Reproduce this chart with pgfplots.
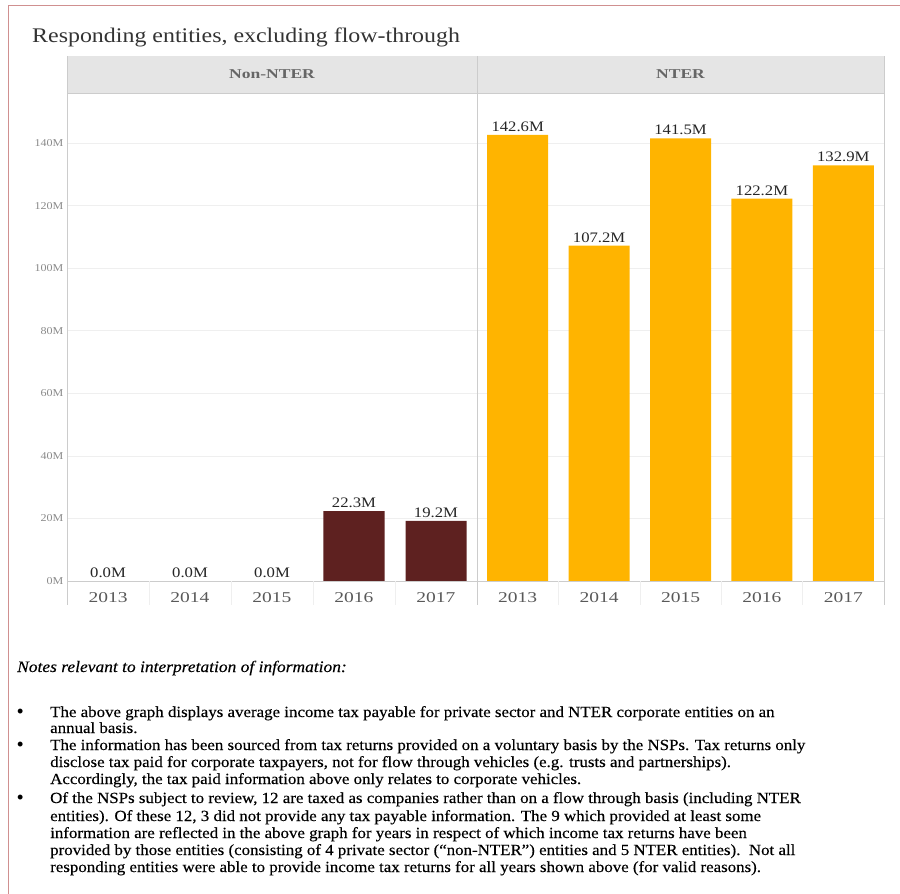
\documentclass[border=0pt]{standalone}
\usepackage{pgfplots}
\pgfplotsset{compat=1.18}
\usepackage{fontspec}
\setmainfont{Liberation Serif}
\newfontfamily\geo[FakeStretch=1.15]{Liberation Serif}
\newfontfamily\geow[FakeStretch=1.3]{Liberation Serif}
\newfontfamily\notef[FakeStretch=1.09,FakeBold=0.25]{Liberation Serif}
\definecolor{nonnter}{HTML}{5E2120}
\definecolor{nter}{HTML}{FFB400}
\definecolor{gridc}{HTML}{EFEFEF}
\definecolor{axc}{HTML}{CCCCCC}
\definecolor{hdr}{HTML}{E5E5E5}
\definecolor{tickc}{HTML}{8A8A8A}
\definecolor{bord}{HTML}{D09090}
\pgfplotsset{
  panel/.style={
    scale only axis, width=410pt, height=488pt,
    xmin=-0.5, xmax=4.5, ymin=0, ymax=156,
    ybar, bar width=61pt,
    axis line style={draw=none}, major tick length=0pt,
    ymajorgrids, grid style={gridc, line width=0.6pt},
    ytick={0,20,...,140},
    xtick={0,...,4}, xticklabels={2013,2014,2015,2016,2017},
    xticklabel style={font=\geow\fontsize{15}{17}\selectfont, text=black!65, yshift=-8pt},
    yticklabel style={font=\geo\fontsize{10.5}{12}\selectfont, text=tickc},
    nodes near coords,
    point meta=explicit symbolic,
    nodes near coords style={font=\geo\fontsize{14.5}{16}\selectfont, text=black!85, anchor=south, inner sep=3pt},
  }
}
\begin{document}
\begin{tikzpicture}[x=1pt,y=1pt]
\useasboundingbox (0,0) rectangle (900,-894);
\draw[bord, line width=1pt] (8.5,-894) -- (8.5,-5.5) -- (900,-5.5);
\node[anchor=base west, inner sep=0, font=\geo\fontsize{20.8}{25}\selectfont, text=black!80] at (32,-42) {Responding entities, excluding flow-through};
\fill[hdr] (67,-56) rectangle (884,-93);
\node[font=\geow\bfseries\fontsize{13.5}{15}\selectfont, text=black!60] at (272,-74.5) {Non-NTER};
\node[font=\geow\bfseries\fontsize{13.5}{15}\selectfont, text=black!60] at (680.5,-74.5) {NTER};

\begin{axis}[panel, at={(67pt,-581pt)}, anchor=south west,
  yticklabels={0M,20M,40M,60M,80M,100M,120M,140M}]
\addplot[fill=nonnter, draw=none] table[meta=lab] {
x y lab
0 0 0.0M
1 0 0.0M
2 0 0.0M
3 22.3 22.3M
4 19.2 19.2M
};
\end{axis}
\begin{axis}[panel, at={(477pt,-581pt)}, anchor=south west, width=407pt,
  yticklabels={}]
\addplot[fill=nter, draw=none] table[meta=lab] {
x y lab
0 142.6 142.6M
1 107.2 107.2M
2 141.5 141.5M
3 122.2 122.2M
4 132.9 132.9M
};
\end{axis}
% frame lines
\draw[axc, line width=0.8pt] (67,-93) -- (884,-93);
\draw[axc, line width=0.8pt] (67,-581) -- (884,-581);
\foreach \xx in {67,477,884} \draw[axc, line width=0.8pt] (\xx,-56) -- (\xx,-605);
\foreach \i in {1,...,4} {
  \draw[gridc, line width=0.6pt] (67+82*\i,-581) -- (67+82*\i,-605);
  \draw[gridc, line width=0.6pt] (477+81.4*\i,-581) -- (477+81.4*\i,-605);
}
% notes
\begin{scope}[every node/.style={anchor=base west, inner sep=0, font=\notef\fontsize{15.5}{18}\selectfont, text=black}]
\node[font=\notef\itshape\fontsize{16}{19}\selectfont] at (17,-672) {Notes relevant to interpretation of information:};
\foreach \yy in {717,750,803} \node[font=\bfseries\fontsize{18}{20}\selectfont] at (17,-\yy) {\textbullet};
\node at (50,-717) {The above graph displays average income tax payable for private sector and NTER corporate entities on an};
\node at (50,-733) {annual basis.};
\node at (50,-750) {The information has been sourced from tax returns provided on a voluntary basis by the NSPs. Tax returns only};
\node at (50,-767) {disclose tax paid for corporate taxpayers, not for flow through vehicles (e.g. trusts and partnerships).};
\node at (50,-784) {Accordingly, the tax paid information above only relates to corporate vehicles.};
\node at (50,-803) {Of the NSPs subject to review, 12 are taxed as companies rather than on a flow through basis (including NTER};
\node at (50,-821) {entities). Of these 12, 3 did not provide any tax payable information. The 9 which provided at least some};
\node at (50,-838) {information are reflected in the above graph for years in respect of which income tax returns have been};
\node at (50,-855) {provided by those entities (consisting of 4 private sector (“non-NTER”) entities and 5 NTER entities).\ \ Not all};
\node at (50,-872) {responding entities were able to provide income tax returns for all years shown above (for valid reasons).};
\end{scope}
\end{tikzpicture}
\end{document}
